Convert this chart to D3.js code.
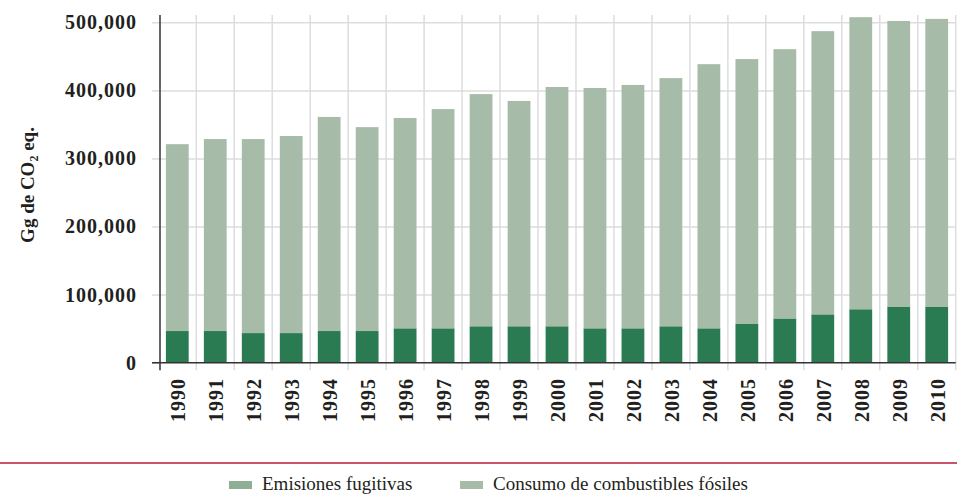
<!DOCTYPE html>
<html>
<head>
<meta charset="utf-8">
<script src="https://cdn.jsdelivr.net/npm/d3@7/dist/d3.min.js"></script>
<style>
  body { margin: 0; background: #fff; }
  svg { display: block; }
</style>
</head>
<body>
<svg id="chart" width="957" height="495"></svg>
<script>
// ---- Data (Gg CO2 eq.) ----
const years = ["1990","1991","1992","1993","1994","1995","1996","1997","1998","1999","2000",
               "2001","2002","2003","2004","2005","2006","2007","2008","2009","2010"];
const fugitivas = [46500,46500,43500,43500,46500,46500,50500,50500,53500,53500,53500,
                   50500,50500,53500,50500,57500,65000,71000,78500,82500,82500];
const combustibles = [274500,282000,285000,289500,314500,299500,309000,322000,341000,331000,351500,
                      353000,357500,364500,388000,388500,395500,416000,429000,419500,422500];
const yTicks = [0,100000,200000,300000,400000,500000];
const seriesNames = ["Emisiones fugitivas","Consumo de combustibles fósiles"];
const yTitle = "Gg de CO";

// ---- Layout ----
const svg = d3.select("#chart");
const pLeft = 158.3, pRight = 955.7, pTop = 15, pBottom = 362.7;
const colDark = "#2a7a52", colLight = "#a6bba8", colLegendDark = "#8fae96";
const gridCol = "#dddddd", axisCol = "#333333", textCol = "#231f20";
const serif = "'Liberation Serif', 'Times New Roman', serif";

const x = d3.scaleBand().domain(years).range([pLeft, pRight]).paddingInner(0.4).paddingOuter(0.2);
const y = d3.scaleLinear().domain([0, 500000]).range([pBottom, 22.3]);

const rows = years.map((yr, i) => ({year: yr, fug: fugitivas[i], comb: combustibles[i]}));
const stack = d3.stack().keys(["fug","comb"])(rows);

// Vertical gridlines at band boundaries
const step = x.step();
const bounds = years.slice(1).map(yr => x(yr) - x.paddingInner()*step/2).concat([pRight]);
svg.append("g").selectAll("line").data(bounds).join("line")
  .attr("x1", d => d).attr("x2", d => d)
  .attr("y1", pTop).attr("y2", pBottom + 7.5)
  .attr("stroke", gridCol).attr("stroke-width", 1.5);

// Y axis with horizontal gridlines
const yAxis = d3.axisLeft(y).tickValues(yTicks).tickFormat(d3.format(","))
  .tickSize(8).tickPadding(15);
const yg = svg.append("g").attr("transform", `translate(160,0)`).call(yAxis);
yg.select(".domain").remove();
yg.selectAll(".tick line").attr("stroke", gridCol).attr("stroke-width", 1.5);
yg.selectAll(".tick").filter(d => d > 0).append("line")
  .attr("x1", 0).attr("x2", pRight - 160)
  .attr("stroke", gridCol).attr("stroke-width", 1.5);
yg.selectAll(".tick text")
  .attr("font-family", serif).attr("font-weight", "bold").attr("font-size", 20)
  .attr("letter-spacing", "1px").attr("fill", textCol);

// Bars
svg.append("g").selectAll("g").data(stack).join("g")
  .attr("fill", (d, i) => i === 0 ? colDark : colLight)
  .selectAll("rect").data(d => d).join("rect")
  .attr("x", d => x(d.data.year))
  .attr("width", x.bandwidth())
  .attr("y", d => y(d[1]))
  .attr("height", d => y(d[0]) - y(d[1]));

// Axis lines
svg.append("line").attr("x1", 152).attr("x2", pRight).attr("y1", pBottom).attr("y2", pBottom)
  .attr("stroke", axisCol).attr("stroke-width", 1.5);
svg.append("line").attr("x1", 160).attr("x2", 160).attr("y1", pTop).attr("y2", pBottom + 7.5)
  .attr("stroke", axisCol).attr("stroke-width", 1.5);

// X tick labels (rotated)
svg.append("g").selectAll("text").data(years).join("text")
  .attr("transform", d => `translate(${x(d) + x.bandwidth()/2 + 1},378) rotate(-90)`)
  .attr("text-anchor", "end").attr("dy", "0.35em")
  .attr("font-family", serif).attr("font-weight", "bold").attr("font-size", 20)
  .attr("letter-spacing", "1px").attr("fill", textCol)
  .text(d => d);

// Y axis title
const t = svg.append("text")
  .attr("transform", "translate(34,185) rotate(-90)")
  .attr("text-anchor", "middle")
  .attr("font-family", serif).attr("font-weight", "bold").attr("font-size", 19)
  .attr("fill", textCol);
t.append("tspan").text(yTitle);
t.append("tspan").attr("font-size", 12).attr("dy", 4).text("2");
t.append("tspan").attr("dy", -4).text(" eq.");

// Red separator line
svg.append("line").attr("x1", 0).attr("x2", 957).attr("y1", 463).attr("y2", 463)
  .attr("stroke", "#c8566a").attr("stroke-width", 2);

// Legend
const legendX = [229, 460];
const legendCols = [colLegendDark, colLight];
const lg = svg.append("g").selectAll("g").data(seriesNames).join("g")
  .attr("transform", (d, i) => `translate(${legendX[i]},0)`);
lg.append("rect").attr("x", 0).attr("y", 481).attr("width", 23).attr("height", 8)
  .attr("fill", (d, i) => legendCols[i]);
lg.append("text").attr("x", 33).attr("y", 490)
  .attr("font-family", serif).attr("font-size", 19).attr("fill", textCol)
  .text(d => d);
</script>
</body>
</html>
